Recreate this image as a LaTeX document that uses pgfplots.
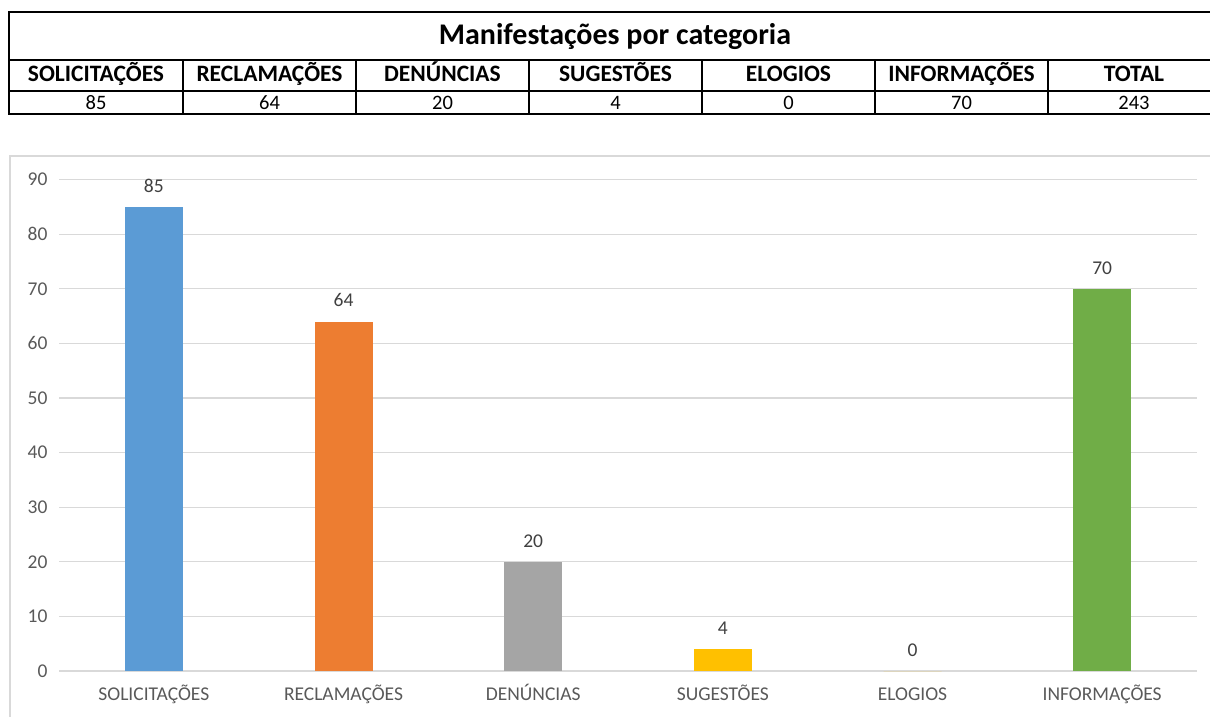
\documentclass[border=0pt]{standalone}
\usepackage{fontspec}
\setmainfont{Carlito}
\usepackage{pgfplots}
\pgfplotsset{compat=1.18}
\definecolor{cblue}{HTML}{5B9BD5}
\definecolor{corange}{HTML}{ED7D31}
\definecolor{cgray}{HTML}{A5A5A5}
\definecolor{cgold}{HTML}{FFC000}
\definecolor{cgreen}{HTML}{70AD47}
\definecolor{gridgray}{HTML}{D9D9D9}
\definecolor{ticktext}{HTML}{595959}
\definecolor{labeltext}{HTML}{404040}
\begin{document}
\begin{tikzpicture}[x=1pt,y=1pt]
\useasboundingbox (0,0) rectangle (1210,716);
\begin{scope}
\clip (0,0) rectangle (1210,716);
% chart area border
\draw[color=gridgray, line width=1.3pt] (10,-10) -- (10,560) -- (1230,560);
% table
\draw[line width=1.8pt] (1230,704) -- (9,704) -- (9,602) -- (1230,602);
\draw[line width=1.8pt] (9,656) -- (1230,656);
\draw[line width=1.8pt] (9,625) -- (1230,625);
\foreach \x in {183,356,529,702,875,1048} \draw[line width=1.8pt] (\x,656) -- (\x,602);
\node[anchor=base, inner sep=0pt, font=\fontsize{30}{35}\selectfont\bfseries] at (615,671) {Manifestações por categoria};
\begin{scope}[every node/.style={anchor=base, inner sep=0pt, font=\fontsize{23.5}{28}\selectfont\bfseries}]
\node at (96,634) {SOLICITAÇÕES};
\node at (269.5,634) {RECLAMAÇÕES};
\node at (442.5,634) {DENÚNCIAS};
\node at (615.5,634) {SUGESTÕES};
\node at (788.5,634) {ELOGIOS};
\node at (961.5,634) {INFORMAÇÕES};
\node at (1134,634) {TOTAL};
\end{scope}
\begin{scope}[every node/.style={anchor=base, inner sep=0pt, font=\fontsize{20.5}{25}\selectfont}]
\node at (96,606) {85};
\node at (269.5,606) {64};
\node at (442.5,606) {20};
\node at (615.5,606) {4};
\node at (788.5,606) {0};
\node at (961.5,606) {70};
\node at (1134,606) {243};
\end{scope}
\end{scope}
\begin{axis}[
  at={(59pt,45pt)}, anchor=south west,
  scale only axis, width=1138pt, height=491.4pt,
  xmin=-0.5, xmax=5.5, ymin=0, ymax=90,
  ybar, bar width=58pt, bar shift=0pt,
  xtick={0,1,2,3,4,5},
  xticklabels={SOLICITAÇÕES,RECLAMAÇÕES,DENÚNCIAS,SUGESTÕES,ELOGIOS,INFORMAÇÕES},
  ytick={0,10,...,90},
  ymajorgrids, grid style={color=gridgray, line width=1.3pt},
  axis line style={draw=none},
  major tick length=0pt,
  /pgf/number format/assume math mode=true,
  tick label style={font=\fontsize{19.5}{23}\selectfont, text=ticktext},
  xticklabel style={anchor=base, yshift=-29pt},
  yticklabel style={anchor=east, xshift=-8pt},
  nodes near coords,
  every node near coord/.append style={font=\fontsize{19.5}{23}\selectfont, text=labeltext, yshift=11pt},
  clip=false,
]
\addplot[fill=cblue, draw=none] coordinates {(0,85)};
\addplot[fill=corange, draw=none] coordinates {(1,64)};
\addplot[fill=cgray, draw=none] coordinates {(2,20)};
\addplot[fill=cgold, draw=none] coordinates {(3,4)};
\addplot[fill=cgold, draw=none] coordinates {(4,0)};
\addplot[fill=cgreen, draw=none] coordinates {(5,70)};
\end{axis}
\end{tikzpicture}
\end{document}
